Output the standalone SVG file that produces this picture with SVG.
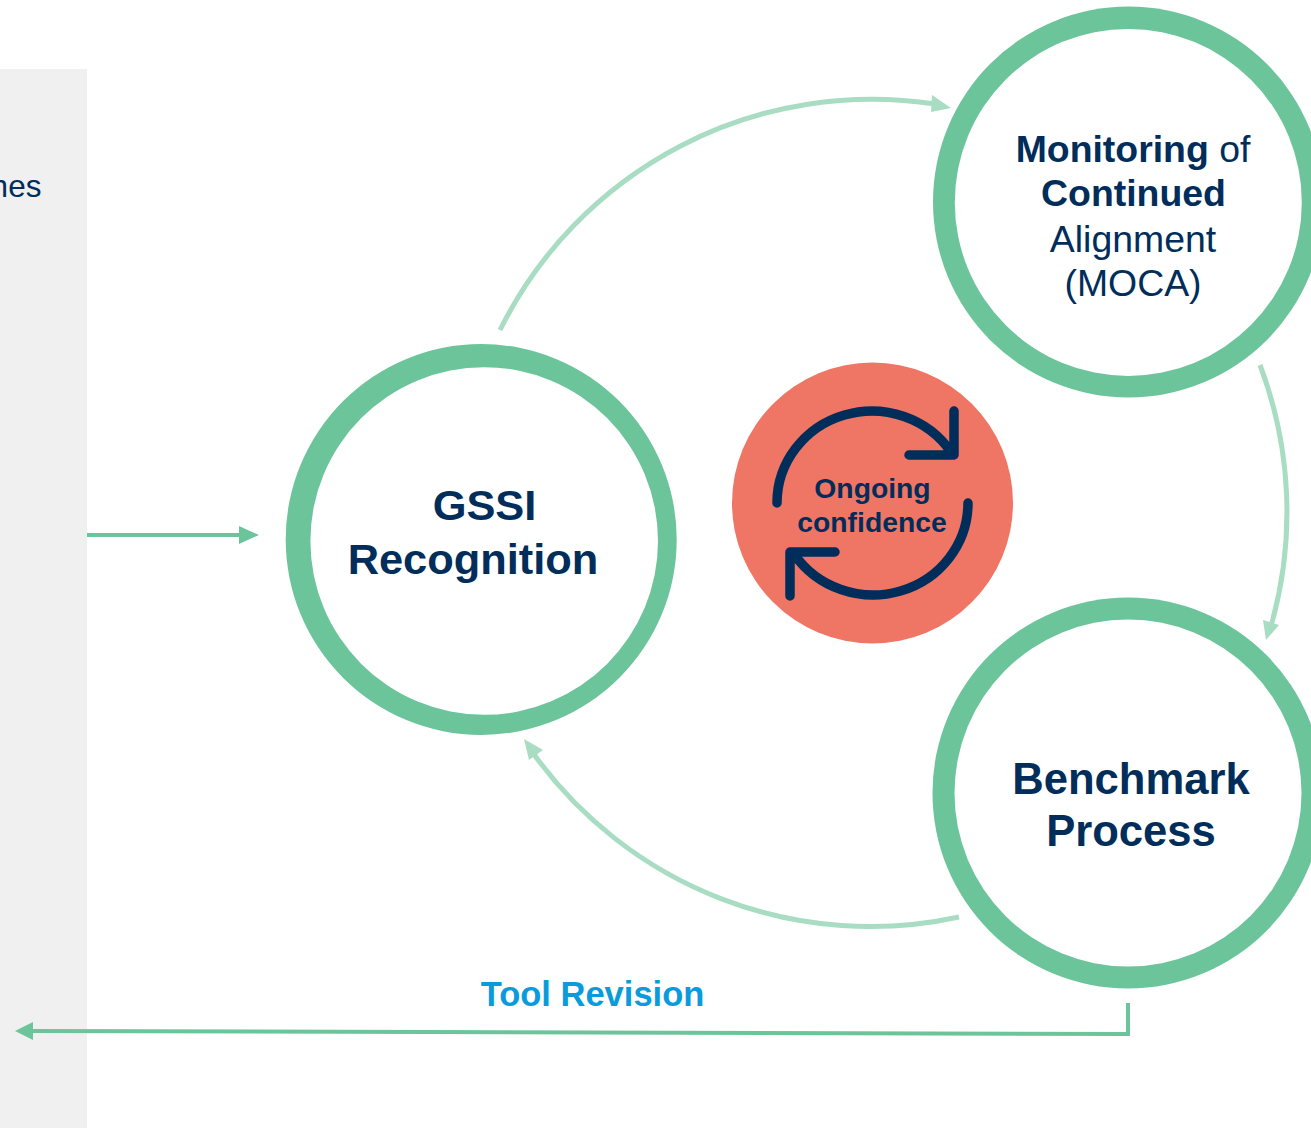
<svg xmlns="http://www.w3.org/2000/svg" width="1311" height="1128" viewBox="0 0 1311 1128">
<style>
text{font-family:"Liberation Sans",Arial,sans-serif;fill:#002D5A;text-anchor:middle}
.b{font-weight:700}
.ring{fill:#6CC49A}
.hole{fill:#fff}
.lite{fill:none;stroke:#A8DDC3;stroke-width:5}
.litehead{fill:#A8DDC3}
.dark{fill:none;stroke:#6CC49A;stroke-width:4}
.darkhead{fill:#6CC49A}
.loop{fill:none;stroke:#002D5A;stroke-width:9.500;stroke-linecap:round;stroke-linejoin:round}
</style>
<rect id="panel" x="0" y="69" width="87" height="1059" fill="#F0F0F0"/>
<text x="16" y="197" font-size="31.5">hes</text>
<g id="connectors">
<path class="lite" d="M500 330A415 415 0 0 1 935 104"/>
<polygon class="litehead" points="951,108 932,95 931,112"/>
<path class="lite" d="M1260 365A415 415 0 0 1 1271 626"/>
<polygon class="litehead" points="1266,640 1279,625 1263,620"/>
<path class="lite" d="M959 917A415 415 0 0 1 533 753"/>
<polygon class="litehead" points="524,739 529,760 543,750"/>
<path class="dark" d="M87 535H242"/>
<polygon class="darkhead" points="259,535 239,526 239,544"/>
<path class="dark" d="M1128 1003V1034L30 1031"/>
<polygon class="darkhead" points="15,1031 33,1022 33,1040"/>
</g>
<g id="gssi">
<circle class="ring" cx="481.200" cy="539.500" r="195.500"/>
<circle class="hole" cx="484.200" cy="541" r="173.800"/>
<text class="b" font-size="43.400"><tspan x="484.500" y="520">GSSI</tspan><tspan x="473" y="574">Recognition</tspan></text>
</g>
<g id="moca">
<circle class="ring" cx="1128.500" cy="202" r="195.500"/>
<circle class="hole" cx="1128.300" cy="202.400" r="173.500"/>
<text font-size="37.400"><tspan x="1133" y="162" class="b">Monitoring <tspan font-weight="400">of</tspan></tspan><tspan x="1133.500" y="206" class="b">Continued</tspan><tspan x="1133" y="252">Alignment</tspan><tspan x="1133" y="296">(MOCA)</tspan></text>
</g>
<g id="benchmark">
<circle class="ring" cx="1128" cy="793" r="195.500"/>
<circle class="hole" cx="1128" cy="793" r="173.500"/>
<text class="b" font-size="43.600"><tspan x="1131" y="794">Benchmark</tspan><tspan x="1131" y="846">Process</tspan></text>
</g>
<g id="confidence">
<circle cx="872.500" cy="503" r="140.500" fill="#EF7665"/>
<path class="loop" d="M777 503A95 92 0 0 1 951 452M954 411V455H909"/>
<path class="loop" d="M968 503A95 92 0 0 1 794 554M790 596V552H835"/>
<text class="b" font-size="28.300"><tspan x="872.500" y="498">Ongoing</tspan><tspan x="872" y="532">confidence</tspan></text>
</g>
<g id="tool-revision">
<text class="b" x="592.500" y="1006" font-size="34.500" style="fill:#0A9BDC">Tool Revision</text>
</g>
</svg>
